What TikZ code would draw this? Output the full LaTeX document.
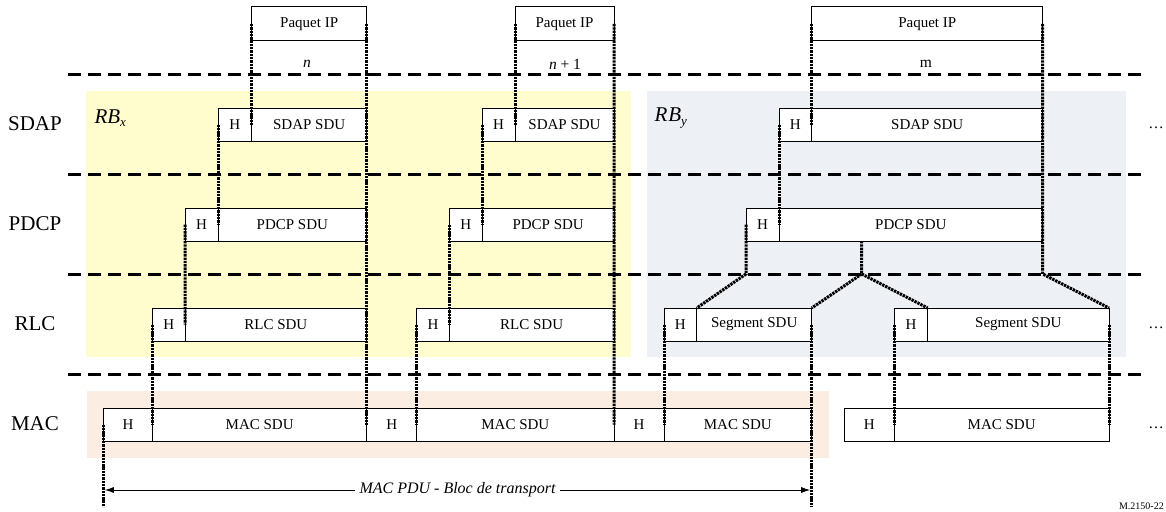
\documentclass[tikz,border=0pt]{standalone}
\usepackage{fontspec}
\setmainfont{Liberation Serif}
\usetikzlibrary{arrows.meta}
\definecolor{rbx}{HTML}{FFFDCD}
\definecolor{rby}{HTML}{EDF0F5}
\definecolor{macbg}{HTML}{FCEDE3}
\begin{document}
\begin{tikzpicture}[x=1pt,y=-1pt,
  box/.style={draw, line width=1pt, fill=white, minimum height=33pt, inner sep=0pt, outer sep=0pt, anchor=west, font=\fontsize{15}{17}\selectfont},
  ipbox/.style={box, minimum height=34pt},
  layer/.style={font=\fontsize{21}{24}\selectfont},
  dotline/.style={line width=3pt, dash pattern=on 2.4pt off 0.9pt},
  sepline/.style={line width=3pt, dash pattern=on 13pt off 7pt},
  lbl/.style={font=\fontsize{15.5}{18}\selectfont}
]
\useasboundingbox (0,0) rectangle (1166,511);
\fill[white] (0,0) rectangle (1166,511);
% backgrounds
\fill[rbx] (86,91) rectangle (631,357);
\fill[rby] (647,91) rectangle (1126,357);
\fill[macbg] (87,391) rectangle (829,458);
% separators
\foreach \y in {74,174,274,374} \draw[sepline] (68,\y) -- (1143,\y);
% layer labels
\node[layer] (lsdap) at (35,124) {SDAP};
\node[layer] (lpdcp) at (35,224) {PDCP};
\node[layer] (lrlc) at (35,324) {RLC};
\node[layer] (lmac) at (35,424) {MAC};
\node[font=\fontsize{21}{24}\selectfont\itshape, anchor=west] (rbx) at (91,118) {RB\raisebox{-0.35ex}{\fontsize{13}{15}\selectfont\itshape x}};
\node[font=\fontsize{21}{24}\selectfont\itshape, anchor=west] (rby) at (651,118) {R\kern1pt B\raisebox{-0.35ex}{\fontsize{13}{15}\selectfont\itshape y}};
% group n
\node[ipbox, minimum width=115pt] (ip1) at (251.7,24) {Paquet IP};
\node[box, minimum width=33.7pt] (sh1) at (218,124.5) {H};
\node[box, minimum width=115pt] (s1) at (251.7,124.5) {SDAP SDU};
\node[box, minimum width=33pt] (ph1) at (185,224.5) {H};
\node[box, minimum width=148.7pt] (p1) at (218,224.5) {PDCP SDU};
\node[box, minimum width=32.3pt] (rh1) at (152.7,324.5) {H};
\node[box, minimum width=181.7pt] (r1) at (185,324.5) {RLC SDU};
\node[box, minimum width=49.4pt] (mh1) at (103.3,424.5) {H};
\node[box, minimum width=214pt] (m1) at (152.7,424.5) {MAC SDU};
% group n+1
\node[ipbox, minimum width=99pt] (ip2) at (515,24) {Paquet IP};
\node[box, minimum width=32.7pt] (sh2) at (482.3,124.5) {H};
\node[box, minimum width=99pt] (s2) at (515,124.5) {SDAP SDU};
\node[box, minimum width=33pt] (ph2) at (449.3,224.5) {H};
\node[box, minimum width=131.7pt] (p2) at (482.3,224.5) {PDCP SDU};
\node[box, minimum width=32.6pt] (rh2) at (416.7,324.5) {H};
\node[box, minimum width=164.7pt] (r2) at (449.3,324.5) {RLC SDU};
\node[box, minimum width=50pt] (mh2) at (366.7,424.5) {H};
\node[box, minimum width=197.3pt] (m2) at (416.7,424.5) {MAC SDU};
\node[box, minimum width=50pt] (mh3) at (614,424.5) {H};
\node[box, minimum width=147.7pt] (m3) at (664,424.5) {MAC SDU};
% group m
\node[ipbox, minimum width=231pt] (ip3) at (811.7,24) {Paquet IP};
\node[box, minimum width=32.7pt] (sh3) at (779,124.5) {H};
\node[box, minimum width=231pt] (s3) at (811.7,124.5) {SDAP SDU};
\node[box, minimum width=33pt] (ph3) at (746,224.5) {H};
\node[box, minimum width=263.7pt] (p3) at (779,224.5) {PDCP SDU};
\node[box, minimum width=32.7pt] (gh1) at (664,324.5) {H};
\node[box, minimum width=115pt] (g1) at (696.7,324.5) {Segment SDU};
\node[box, minimum width=33.4pt] (gh2) at (894.3,324.5) {H};
\node[box, minimum width=181.3pt] (g2) at (927.7,324.5) {Segment SDU};
\node[box, minimum width=50pt] (mh4) at (844.3,424.5) {H};
\node[box, minimum width=214.7pt] (m4) at (894.3,424.5) {MAC SDU};
% sequence labels
\node[lbl] (ln) at (307,64) {\textit{n}};
\node[lbl] (ln1) at (565,64) {\textit{n} + 1};
\node[lbl] (lm) at (926,64) {m};
% ellipses
\node[lbl] (e1) at (1156,128) {\dots};
\node[lbl] (e2) at (1156,328) {\dots};
\node[lbl] (e3) at (1156,428) {\dots};
% coordinates
\coordinate (b1) at (103.3,507);
\coordinate (b2) at (811.7,507);
\coordinate (dl) at (746,274);
\coordinate (pm) at (861.7,241);
\coordinate (dm) at (861.7,274);
\coordinate (dr) at (1042.7,274);
% dotted mapping lines, group n
\draw[dotline] (ip1.west) -- (s1.west);
\draw[dotline] (ip1.east) -- (m1.east);
\draw[dotline] (sh1.west) -- (ph1.east);
\draw[dotline] (ph1.west) -- (rh1.east);
\draw[dotline] (rh1.west) -- (mh1.east);
\draw[dotline] (mh1.west) -- (b1);
% group n+1
\draw[dotline] (ip2.west) -- (s2.west);
\draw[dotline] (ip2.east) -- (m2.east);
\draw[dotline] (sh2.west) -- (ph2.east);
\draw[dotline] (ph2.west) -- (rh2.east);
\draw[dotline] (rh2.west) -- (mh2.east);
% group m
\draw[dotline] (ip3.west) -- (s3.west);
\draw[dotline] (ip3.east) -- (dr) -- (g2.north east);
\draw[dotline] (sh3.west) -- (ph3.east);
\draw[dotline] (ph3.west) -- (dl) -- (gh1.north east);
\draw[dotline] (pm) -- (dm) -- (g1.north east);
\draw[dotline] (dm) -- (gh2.north east);
\draw[dotline] (gh1.west) -- (mh3.east);
\draw[dotline] (g1.east) -- (b2);
\draw[dotline] (gh2.west) -- (mh4.east);
\draw[dotline] (g2.east) -- (m4.east);
% transport block arrow
\draw[line width=0.9pt, {Latex[length=9pt,width=6pt]}-{Latex[length=9pt,width=6pt]}] ([xshift=1.5pt]b1 |- 0,490) -- node[fill=white, inner sep=5pt, font=\fontsize{16}{18}\selectfont\itshape] (tb) {MAC PDU - Bloc de transport} ([xshift=-1.5pt]b2 |- 0,490);
% figure reference
\node[anchor=south east, font=\fontsize{10}{12}\selectfont, inner sep=0pt] (ref) at (1164,510) {M.2150-22};
\end{tikzpicture}
\end{document}
